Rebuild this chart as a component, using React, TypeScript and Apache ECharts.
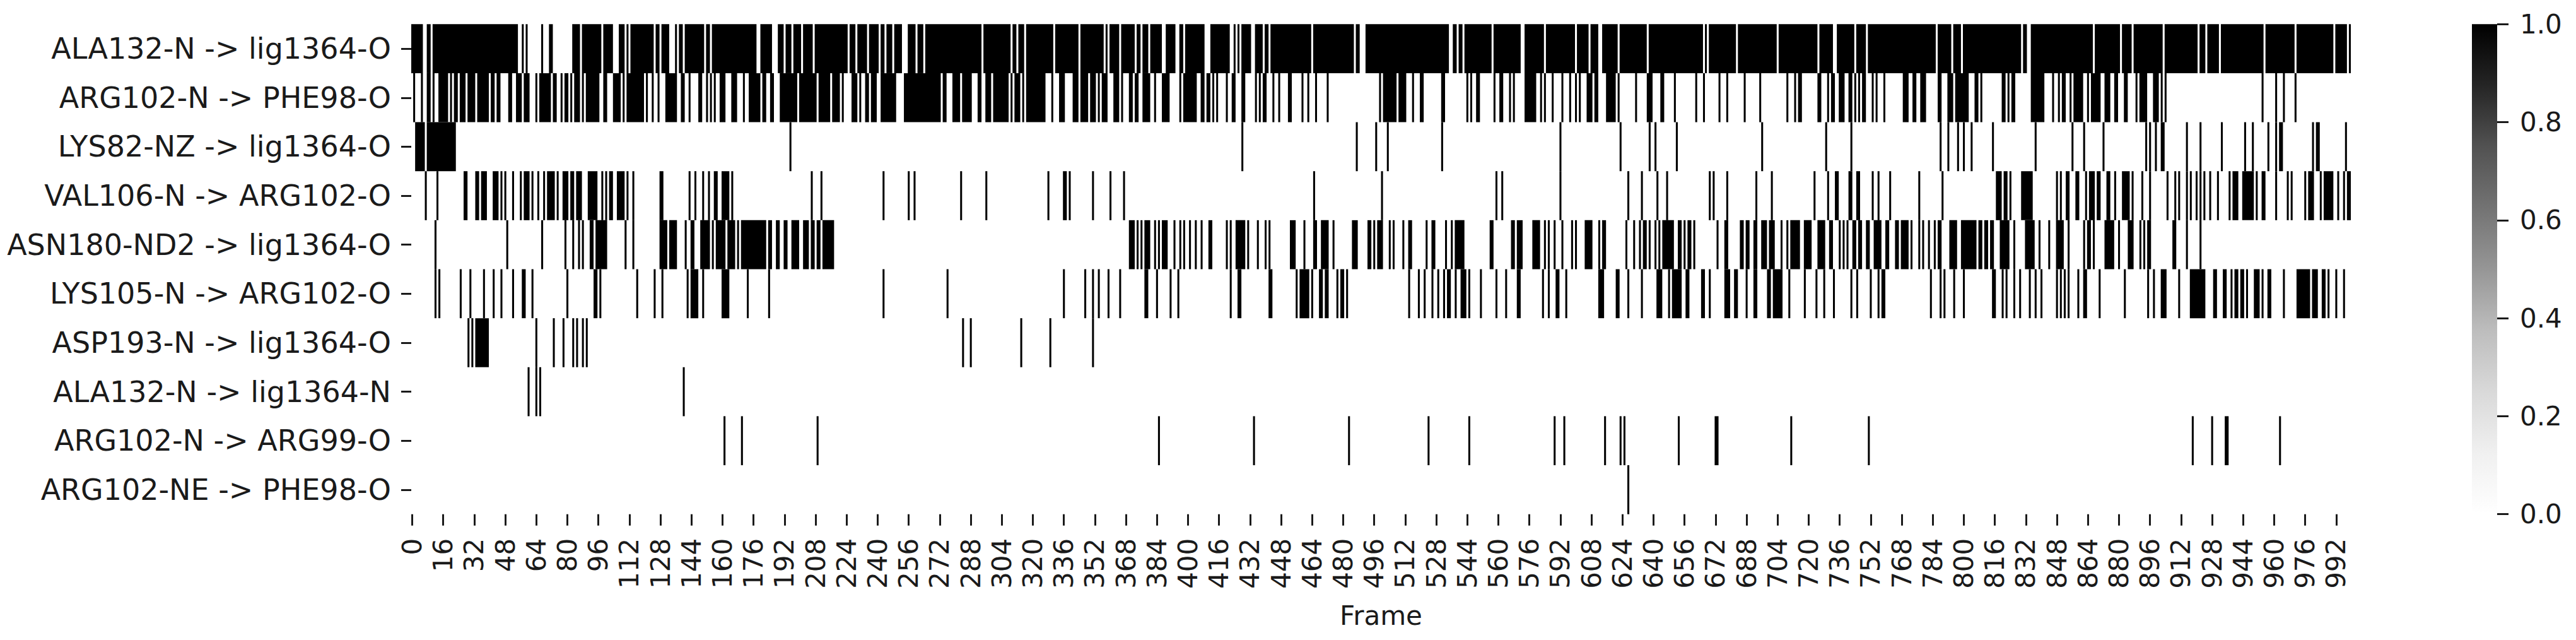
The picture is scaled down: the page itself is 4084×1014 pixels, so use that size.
import React, { useEffect, useRef } from "react";
import * as echarts from "echarts";

const bondLabels = [
  "ALA132-N -> lig1364-O",
  "ARG102-N -> PHE98-O",
  "LYS82-NZ -> lig1364-O",
  "VAL106-N -> ARG102-O",
  "ASN180-ND2 -> lig1364-O",
  "LYS105-N -> ARG102-O",
  "ASP193-N -> lig1364-O",
  "ALA132-N -> lig1364-N",
  "ARG102-N -> ARG99-O",
  "ARG102-NE -> PHE98-O",
];

const frameCount = 1000;
const frameStep = 16;

// Each pair is [first occupied frame, frame after the last occupied one]
const ala132NLigO = [[0,6],[8,10],[11,55],[57,58],[59,60],[67,68],[71,73],[83,87],[88,98],[99,104],[107,110],[111,112],[113,125],[126,128],[129,133],[136,137],[138,140],[141,151],[152,154],[155,178],[180,186],[189,192],[193,196],[197,201],[202,207],[208,225],[226,229],[230,235],[236,241],[242,244],[245,248],[249,253],[256,260],[261,264],[265,294],[295,309],[310,312],[313,316],[317,331],[332,344],[345,357],[358,359],[360,365],[366,373],[374,376],[377,380],[381,387],[389,394],[396,398],[399,409],[412,422],[424,425],[426,427],[428,433],[435,439],[440,442],[443,464],[465,486],[487,489],[492,535],[537,539],[540,542],[543,557],[558,572],[574,584],[585,600],[601,607],[608,612],[614,622],[623,637],[638,666],[667,668],[669,683],[684,704],[705,725],[726,733],[735,744],[745,750],[751,786],[787,794],[795,799],[800,830],[831,833],[835,867],[868,881],[882,887],[888,903],[904,921],[922,925],[926,932],[933,955],[956,971],[972,991],[992,998],[999,1000]];

const arg102NPhe98O = [[1,2],[5,6],[8,10],[11,12],[14,19],[20,21],[22,24],[25,28],[29,33],[34,40],[41,43],[44,46],[50,52],[54,57],[58,61],[64,65],[66,72],[73,75],[77,78],[79,81],[82,83],[84,87],[88,89],[90,97],[99,101],[104,108],[109,110],[111,120],[121,122],[124,125],[127,128],[131,137],[139,141],[143,144],[148,150],[152,153],[154,155],[156,157],[159,162],[165,168],[171,172],[174,180],[181,183],[185,187],[190,199],[200,209],[210,216],[217,221],[222,223],[227,230],[231,232],[234,236],[237,240],[242,250],[254,273],[274,276],[279,283],[284,289],[292,294],[296,299],[300,308],[309,310],[311,314],[315,316],[317,327],[330,331],[334,337],[341,344],[345,349],[350,353],[354,355],[356,359],[362,365],[366,367],[370,372],[373,375],[377,381],[383,384],[387,391],[396,397],[398,405],[407,409],[410,412],[413,414],[415,416],[420,421],[423,425],[428,430],[435,436],[437,438],[439,441],[444,445],[447,448],[452,454],[459,460],[462,463],[466,467],[472,473],[499,500],[501,508],[509,513],[516,517],[520,522],[531,533],[544,545],[546,547],[549,551],[558,559],[561,563],[566,567],[568,569],[574,580],[582,583],[584,585],[588,589],[593,594],[597,598],[600,601],[602,603],[606,609],[610,612],[616,621],[622,623],[631,632],[637,640],[644,646],[651,652],[662,663],[666,667],[674,675],[678,679],[687,688],[695,696],[709,710],[713,714],[715,717],[725,727],[730,731],[732,734],[736,739],[741,743],[744,745],[746,747],[748,750],[753,754],[755,756],[759,760],[769,772],[774,776],[778,781],[787,789],[792,795],[796,803],[806,808],[809,810],[820,822],[823,824],[825,827],[835,842],[846,847],[849,850],[851,853],[855,856],[857,862],[864,865],[866,871],[873,876],[878,880],[883,885],[889,890],[891,895],[898,901],[902,903],[904,905],[954,955],[961,962],[965,966],[971,972]];

const lys82NZLigO = [[2,7],[8,23],[195,196],[428,429],[487,488],[497,498],[503,504],[531,532],[592,593],[623,624],[638,639],[641,642],[652,653],[696,697],[729,730],[742,743],[788,789],[792,793],[797,798],[800,801],[804,805],[815,816],[837,838],[856,857],[862,863],[872,873],[894,895],[896,897],[899,900],[902,904],[915,916],[922,923],[933,934],[945,946],[949,950],[957,958],[961,962],[963,965],[980,981],[982,984],[997,998]];

const val106NArg102O = [[7,8],[13,14],[27,29],[33,35],[36,39],[42,45],[46,47],[48,49],[52,53],[56,57],[58,61],[62,63],[65,66],[68,69],[70,74],[75,76],[78,81],[82,84],[85,88],[91,96],[98,99],[100,101],[102,104],[106,110],[111,112],[114,115],[128,130],[143,144],[146,147],[150,151],[153,154],[156,158],[160,164],[165,166],[206,207],[211,212],[243,244],[256,257],[259,260],[283,284],[296,297],[328,329],[336,338],[339,340],[351,352],[360,361],[367,368],[465,466],[500,501],[559,560],[562,563],[592,593],[627,628],[634,635],[642,643],[647,648],[669,670],[671,672],[678,679],[693,694],[701,702],[723,724],[730,731],[734,736],[741,743],[745,747],[753,754],[756,757],[762,763],[777,778],[789,790],[817,820],[821,823],[824,825],[830,836],[848,849],[850,851],[853,855],[858,860],[863,864],[865,868],[869,871],[874,876],[878,879],[882,886],[887,888],[892,893],[896,897],[905,906],[909,910],[911,912],[915,916],[917,918],[920,921],[922,923],[924,925],[927,928],[931,932],[937,938],[939,942],[944,950],[951,952],[954,956],[961,962],[967,968],[969,970],[976,977],[978,981],[984,985],[986,991],[993,994],[996,997],[998,1000]];

const asn180ND2LigO = [[12,13],[49,50],[67,68],[79,80],[83,84],[86,87],[88,89],[92,94],[95,101],[110,111],[114,115],[128,132],[133,137],[141,142],[144,146],[149,154],[155,156],[157,162],[163,167],[168,169],[170,183],[184,186],[188,190],[192,194],[196,200],[202,205],[206,208],[209,211],[212,218],[370,373],[374,375],[376,377],[378,381],[383,384],[385,386],[387,390],[393,394],[396,397],[398,399],[401,402],[404,405],[407,408],[411,413],[420,421],[422,423],[425,430],[431,432],[436,437],[440,441],[442,443],[453,456],[460,461],[465,467],[469,473],[475,476],[485,488],[493,495],[496,497],[498,501],[504,505],[506,507],[511,512],[514,516],[523,524],[526,528],[533,534],[536,537],[538,543],[556,558],[567,569],[570,573],[578,582],[584,585],[586,587],[589,590],[593,594],[598,599],[600,601],[605,609],[612,613],[614,616],[626,627],[630,631],[633,634],[635,637],[638,639],[641,642],[643,644],[645,651],[653,655],[656,657],[658,660],[661,662],[673,674],[677,679],[685,687],[688,690],[692,694],[696,699],[700,703],[706,707],[709,710],[711,716],[718,722],[725,729],[731,733],[736,737],[738,739],[740,741],[743,745],[746,748],[750,752],[754,758],[760,762],[765,767],[768,772],[773,774],[777,778],[779,780],[782,783],[785,786],[787,789],[793,797],[799,807],[808,810],[811,813],[814,816],[819,824],[826,827],[832,837],[839,840],[844,845],[848,852],[854,855],[862,863],[864,866],[867,868],[873,878],[880,881],[885,888],[891,892],[893,894],[895,897],[908,910],[915,916],[922,923]];

const lys105NArg102O = [[12,13],[14,15],[25,26],[30,31],[37,38],[42,43],[46,47],[52,53],[57,59],[62,63],[80,81],[94,96],[97,98],[116,117],[125,126],[129,130],[142,143],[144,148],[150,151],[160,164],[173,174],[184,185],[243,244],[276,277],[336,337],[347,348],[351,352],[354,355],[359,360],[365,366],[378,380],[384,385],[391,392],[395,396],[422,423],[426,428],[442,444],[456,457],[458,463],[464,465],[468,470],[471,473],[477,478],[479,481],[482,483],[514,515],[519,520],[522,523],[526,527],[529,530],[532,533],[534,536],[538,539],[541,544],[545,546],[551,552],[559,560],[564,565],[570,572],[583,584],[586,587],[590,592],[595,596],[612,615],[621,623],[627,628],[634,635],[642,645],[648,649],[650,655],[657,659],[665,667],[669,670],[677,680],[682,684],[688,689],[692,694],[699,701],[702,707],[710,711],[718,719],[724,725],[728,729],[733,734],[742,743],[745,746],[752,753],[756,757],[758,760],[783,784],[788,789],[790,791],[795,796],[800,801],[815,817],[820,821],[822,823],[826,827],[829,830],[834,835],[837,838],[840,841],[848,849],[850,851],[852,853],[854,855],[859,860],[862,864],[870,871],[883,884],[895,896],[898,899],[902,905],[911,912],[917,925],[929,931],[934,936],[938,939],[940,942],[943,945],[946,947],[950,953],[954,955],[957,959],[965,966],[972,979],[980,983],[985,987],[988,989],[992,993],[996,997]];

const asp193NLigO = [[29,30],[31,32],[33,40],[64,65],[73,74],[78,79],[83,84],[85,86],[88,89],[90,91],[284,285],[288,289],[314,315],[329,330],[351,352]];

const ala132NLigN = [[60,61],[64,65],[66,67],[140,141]];

const arg102NArg99O = [[161,162],[170,171],[209,210],[385,386],[434,435],[483,484],[524,525],[545,546],[589,590],[594,595],[615,616],[623,624],[625,626],[653,654],[672,674],[711,712],[751,752],[918,919],[928,929],[935,937],[963,964]];

const arg102NEPhe98O = [[627,628]];

const rowRuns = [
  ala132NLigO,
  arg102NPhe98O,
  lys82NZLigO,
  val106NArg102O,
  asn180ND2LigO,
  lys105NArg102O,
  asp193NLigO,
  ala132NLigN,
  arg102NArg99O,
  arg102NEPhe98O,
];

const frames = Array.from({ length: frameCount }, (_, i) => String(i));

const textColor = "#1a1a1a";
const font = "DejaVu Sans";

export default function App() {
  const ref = useRef<HTMLDivElement>(null);

  useEffect(() => {
    document.body.style.margin = "0";
    const chart = echarts.init(ref.current!, null, { renderer: "svg" });
    const cells: number[][] = [];
    rowRuns.forEach((runs, row) => runs.forEach(([s, e]) => cells.push([s, row, e])));
    const showEvery = (i: number) => i % frameStep === 0;

    chart.setOption({
      animation: false,
      backgroundColor: "#ffffff",
      textStyle: { fontFamily: font },
      grid: [
        { left: 652, top: 38.3, width: 3075, height: 776.4 },
        { left: 3919, top: 38.3, width: 40, height: 776.4 },
      ],
      xAxis: [
        {
          type: "category",
          gridIndex: 0,
          data: frames,
          name: "Frame",
          nameLocation: "middle",
          nameGap: 140,
          nameTextStyle: { fontSize: 42, color: textColor, fontFamily: font },
          axisLine: { show: false },
          splitLine: { show: false },
          axisTick: {
            show: true,
            alignWithLabel: true,
            interval: (i: number) => showEvery(i),
            length: 18,
            lineStyle: { color: "#1a1a1a", width: 3 },
          },
          axisLabel: {
            show: true,
            interval: (i: number) => showEvery(i),
            rotate: 90,
            margin: 38,
            fontSize: 42,
            color: textColor,
            fontFamily: font,
            hideOverlap: false,
          },
        },
        { type: "category", gridIndex: 1, data: ["colorbar"], show: false },
      ],
      yAxis: [
        {
          type: "category",
          gridIndex: 0,
          inverse: true,
          data: bondLabels,
          axisLine: { show: false },
          splitLine: { show: false },
          axisTick: {
            show: true,
            alignWithLabel: true,
            length: 16,
            lineStyle: { color: "#1a1a1a", width: 3 },
          },
          axisLabel: {
            interval: 0,
            margin: 32,
            fontSize: 46,
            color: textColor,
            fontFamily: font,
          },
        },
        {
          type: "value",
          gridIndex: 1,
          position: "right",
          min: 0,
          max: 1,
          interval: 0.2,
          axisLine: { show: false },
          splitLine: { show: false },
          axisTick: { show: true, length: 18, lineStyle: { color: "#1a1a1a", width: 3 } },
          axisLabel: {
            margin: 36,
            fontSize: 42,
            color: textColor,
            fontFamily: font,
            formatter: (v: number) => v.toFixed(1),
          },
        },
      ],
      series: [
        {
          type: "custom",
          name: "H-bond present",
          xAxisIndex: 0,
          yAxisIndex: 0,
          encode: { x: 0, y: 1 },
          clip: false,
          silent: true,
          data: cells,
          renderItem: (_p: unknown, api: any) => {
            const s = api.value(0);
            const r = api.value(1);
            const e = api.value(2);
            const band = api.size([1, 1]);
            const a = api.coord([s, r]);
            const b = api.coord([e - 1, r]);
            return {
              type: "rect",
              shape: {
                x: a[0] - band[0] / 2,
                y: a[1] - band[1] / 2,
                width: b[0] - a[0] + band[0],
                height: band[1],
              },
              style: { fill: "#000000" },
            };
          },
        },
        {
          type: "bar",
          name: "colorbar",
          xAxisIndex: 1,
          yAxisIndex: 1,
          barWidth: "100%",
          silent: true,
          data: [1],
          itemStyle: {
            color: new echarts.graphic.LinearGradient(0, 0, 0, 1, [
              { offset: 0, color: "#000000" },
              { offset: 0.125, color: "#252525" },
              { offset: 0.25, color: "#525252" },
              { offset: 0.375, color: "#737373" },
              { offset: 0.5, color: "#969696" },
              { offset: 0.625, color: "#bdbdbd" },
              { offset: 0.75, color: "#d9d9d9" },
              { offset: 0.875, color: "#f0f0f0" },
              { offset: 1, color: "#ffffff" },
            ]),
          },
        },
      ],
    });
    return () => chart.dispose();
  }, []);

  return <div ref={ref} style={{ width: 4084, height: 1014 }} />;
}
